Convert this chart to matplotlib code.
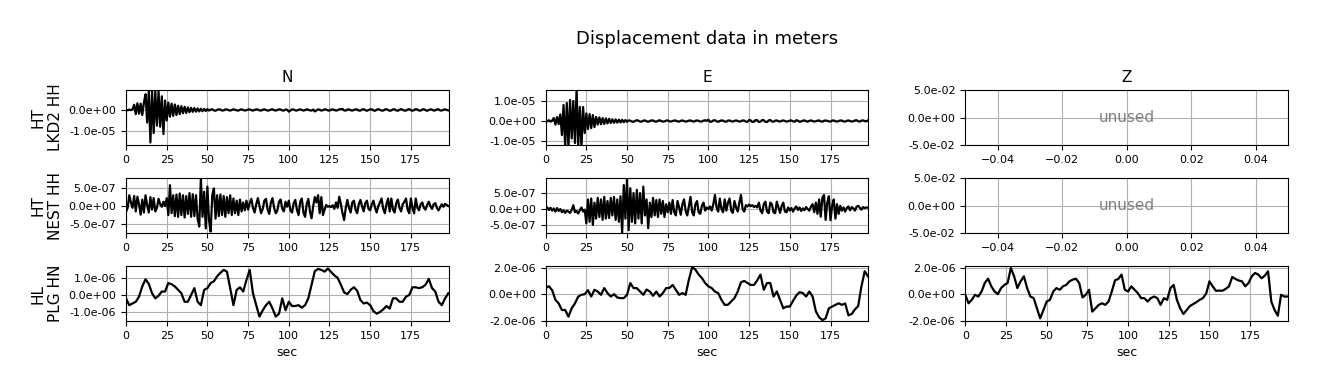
import numpy as np
import matplotlib
matplotlib.use('Agg')
import matplotlib.pyplot as plt
from matplotlib.ticker import FormatStrFormatter, MultipleLocator

# displacement traces
# HT LKD2 HH, 1 sample / sec, units 1e-6 m
lkd2_n = [0.1, -0.2, 0.2, -0.1, 0.3,
          2.5, -2.0, 3.2, -1.8, 3.0, -2.4, 3.5,
          7.5, -6.0, 9.0, -15.5, 9.2, -11.0, 8.8, -7.5, 9.0, -8.0, 6.5, -11.5, 4.5,
          -5.0, 3.5, -3.2, 3.0, -2.8, 2.6, -2.4, 2.0, -2.0, 1.8, -1.6, 1.5, -1.4, 1.2, -1.1,
          1.0, -0.9, 0.9, -0.8, 0.7, -0.7, 0.6, -0.6, 0.5, -0.5,
          0.4, -0.3, 0.2, 0.3, -0.2, -0.4, 0.1, 0.3, 0.2, -0.3,
          -0.2, 0.2, 0.3, -0.1, -0.3, 0.0, 0.3, 0.1, -0.2, -0.3,
          0.1, 0.3, 0.0, -0.3, -0.1, 0.2, 0.3, -0.1, -0.3, 0.0,
          0.3, 0.2, -0.2, -0.3, 0.1, 0.3, 0.0, -0.3, -0.2, 0.2,
          0.3, -0.1, -0.3, 0.0, 0.3, 0.2, -0.2, -0.3, 0.2, 0.1,
          -0.8, -0.3, 0.3, 0.2, -0.2, -0.3, 0.1, 0.3, 0.0, -0.3,
          -0.1, 0.3, 0.1, -0.2, -0.3, 0.2, -0.7, -0.2, 0.3, 0.1,
          -0.3, -0.1, 0.3, 0.2, -0.2, -0.3, 0.1, 0.3, 0.0, -0.3,
          -0.1, 0.3, 0.4, 0.5, -0.2, -0.3, 0.2, 0.3, -0.1, -0.3,
          0.0, 0.3, 0.2, -0.3, -0.3, 0.2, 0.4, -0.1, -0.4, 0.0,
          0.3, 0.3, -0.2, -0.4, 0.1, 0.4, 0.1, -0.3, -0.3, 0.2,
          0.4, 0.0, -0.4, -0.2, 0.3, 0.3, -0.2, -0.4, 0.1, 0.4,
          0.1, -0.3, -0.3, 0.2, 0.4, -0.1, -0.4, 0.0, 0.4, 0.2,
          -0.3, -0.3, 0.2, 0.4, -0.1, -0.4, 0.0, 0.3, 0.2, -0.3,
          -0.2, 0.3, 0.3, -0.2, -0.3, 0.1, 0.3, 0.0, -0.2]

lkd2_e = [0.3, -0.2, 0.4, -0.3, 0.2,
          1.5, -1.8, 2.0, -1.5, 3.3,
          -7.0, 8.0, -13.0, 9.0, -13.0, 10.5, -8.7, 10.0, -11.0, 16.0, -13.0, 7.0, -13.0, 7.0, -6.0,
          3.8, -4.0, 3.5, -3.6, 3.0, -3.0, 2.0, -1.8, 1.8, -1.6, 1.5, -1.5, 1.3, -1.2, 1.1,
          -1.0, 0.9, -0.9, 0.8, -0.8, 0.7, -0.7, 0.6, -0.6, 0.5,
          -0.4, 0.3, 0.2, -0.3, -0.4, 0.1, 0.4, 0.2, -0.3, -0.3,
          0.2, 0.3, -0.1, -0.4, 0.0, 0.3, 0.3, -0.2, -0.3, 0.1,
          0.4, 0.0, -0.3, -0.2, 0.2, 0.3, -0.1, -0.3, 0.0, 0.3,
          0.2, -0.2, -0.3, 0.1, 0.3, 0.0, -0.3, -0.1, 0.2, 0.3,
          -0.1, -0.3, 0.1, 0.3, 0.1, -0.3, -0.2, 0.2, 0.4, 0.1,
          0.6, -0.4, -0.3, 0.3, 0.4, -0.1, -0.4, 0.0, 0.3, 0.2,
          -0.3, -0.3, 0.2, 0.3, -0.1, -0.3, 0.1, 0.3, 0.0, -0.3,
          -0.1, 0.3, 0.2, -0.3, -0.4, 0.5, 0.3, -0.5, -0.3, 0.5,
          0.4, -0.5, -0.3, 0.5, 0.4, -0.4, -0.5, 0.3, 0.5, -0.2,
          -0.4, 0.2, 0.3, -0.1, -0.3, 0.1, 0.3, 0.0, -0.3, -0.1,
          0.2, 0.3, -0.2, -0.3, 0.4, 0.2, -0.4, -0.2, 0.2, 0.3,
          -0.1, -0.3, 0.1, 0.3, 0.0, -0.3, -0.1, 0.2, 0.3, -0.2,
          -0.3, 0.1, 0.3, 0.1, -0.2, -0.3, 0.2, 0.3, -0.1, -0.3,
          0.0, 0.3, 0.2, -0.2, -0.3, 0.1, 0.3, 0.0, -0.3, -0.1,
          0.3, 0.4, -0.1, -0.3, 0.2, 0.3, 0.0, -0.2, 0.3]

# HT NEST HH, 1 sample / sec, units 1e-8 m
nest_n = [-16, -5, 30, 10, -5, 28, -15, 26, 5, -24, 18, -18, 30, 2, -18, 25, -10, 22, -15, -5,
          20, 5, -2, 12, 0,
          22, -25, 58, -20, 30, -28, 32, -30, 35, -25, 30, -32, 28, -22, 36, -30, 33, -28, 30, -35,
          -57, 78, -30, 40, -62, 54, -40, -71, 30, 49, -35,
          30, -28, 32, -25, 28, -30, 25, -20, 30, -25,
          21, -20, 15, -25, 18, -15, 10, -12, 15, -10,
          8, 20, -5, -18, 5, 22, 0, -20, -8, 15, 20, -10, -22, 10, 22, -5, -20, -12, 12, 18,
          -8, -15,
          12, -2, 15, -12, -18, 8, 17, -10, -25, 12, 21, -18, -30, 5, 20, -15, -34, 0, 25, 10,
          30, -20, 25, -25, -10,
          3, -2, 0, -3, 2, -8, 10, -5, 26, 5, -20, -39, -5,
          17, -5, -18, 10, 15, -10, -20, 5, 17, 0, -15, 8, 15, -8, -12,
          5, 15, -5, -18, 0, 10, 21, -8, -20, 5, 21, -15, 21, -10, -18,
          8, 18, -5, -15, 5, 12, 21, -10, -20, 21, -5, -20, 21, -5, -12,
          5, 10, -5, -10, 3, 12, 0, -8, 5, 8, -5, -12, -3, 5, -2, 6, 3, 0]

nest_e = [0, 5, -3, 4, -5, 2, -8, 3, -6, 0, -10, -4, -12, -5, -8, -12, -3, 12, -10, -6,
          -14, -4, 5, -8, -2,
          -45, 30, -40, 33, -50, 20, -30, 35, -25, 30, -34, 38, -30, 25, -28, 35, -20, 38, -34, 30,
          -40, 40, -75, 75, -30, 96, -66, 65, -40, 50, -45, 60, -30, 50, -45, 70, -20, 30, -60, 20,
          -25,
          35, -20, 28, -25, 30, -15, 25, -25, 15, -10,
          20, -15, 28, -10, -20, 25, 5, -18, 15, 30, -5, -20, 10, 38, -10, -20, 15, 25, -10, -15,
          10, 20,
          -5, 5, 0, 8, -5, 15, 44, 5, -8, 33, 0, -10, 30, -5, 20, 33, -5, -12, 25, 5,
          -8, 20, 44, 0, -8,
          12, 8, 14, 9, 12, 6, 10, 5,
          20, -5, -13, 15, 23, -8, -13, 20, 15, -10, -13, 23, 5, -12, 10, 20, -8, -10,
          5, -5, 3, -8, 2, 8, -3, 5, -6, 2, -4, 6, 0, -5, 8,
          15, -10, 20, -15, 30, -24, 35, 44, -34, 20, 40, -35, 10, 30, -30, 15, -15,
          10, -5, 5, -8, 3, 8, -4, 6, 2, -5, 7, 10, 4, -2, 6, 3, 5, 4]

# HL PLG HN, 1 sample / 2 sec, units 1e-7 m
plg_n = [-2, -6, -5, -4, -1, 5, 9.2, 6.5, 1, -2, -0.5, 2, 2, 7, 6.3, 5, 3, 1, -4, -4,
         0, 4, -4, -6, 3, 4, 7, 8, 11, 13, 14.7, 13.7, 4, -6, 3, 4.5, 2, 8.8, 14.7, 1,
         -6, -12.7, -9, -6, -4, -8, -12.7, -11, -2, -9, -4, -6.5, -6.5, -6, -7.5, -6, -2, 6, 14, 15.3,
         14.7, 13.7, 15.5, 13.5, 11.5, 10, 6, 1.5, 0.5, 3, 4.5, 2.5, -3, -5, -4.5, -6, -9.5, -11, -10, -8.5,
         -6.5, -8, -2, -2, -4, -4, -1, 0, 4.5, 4.5, 4, 4.5, 6, 9.4, 4, 2, -4, -6, -2, 1]

plg_e = [4.6, 6, 3, -4.3, -7, -12, -12, -17, -10.7, -7, -1.8, -0.5, 0, 3, -1.8, 3.3, 2, -0.5, 4.6, 0.8,
         -1.8, 0, -2.5, -3, -3, -0.5, 8.4, 4.6, 4.6, 2, -0.5, 3.5, 2, -1.2, 2, -1.8, 0.8, 4.6, 4.6, 7,
         3.3, -0.5, 0.8, -0.5, 11, 20.4, 18.6, 14.8, 12.2, 8.4, 5.9, 4.6, 2, 0.8, -4.3, -8.1, -8, -5.5, -3, 2,
         9, 10, 8.4, 7, 7, 10.5, 14.8, 3.3, 8.4, 8.4, -1.8, 2, -4.3, -10.7, -9.4, -9.4, -5, -1, 1.5, 0.8,
         -1.8, 2, -1.8, -13, -17.5, -19.6, -18.3, -10.7, -9.4, -8.1, -6.9, -8.1, -7, -16, -15, -11.5, -9, 5.9, 17.3, 13.5]

plg_z = [-0.5, -6.9, -4.3, -0.5, -1.8, 2, 8.5, 11.7, 5.9, 2, 0, 4.6, 7, 8.4, 19.8, 13.5, 4.6, 9.7, 13.5, 4.6,
         -1.8, -3, -10.7, -18.3, -12, -5.6, -4.3, 2, 4.6, 3.3, 5.9, 7, 9.7, 11, 11.7, 8.4, -2.5, -0.5, 3.3, -13.2,
         -10.7, -8.1, -6.9, -8.1, -5.6, 2, 10.5, 11.5, 14.8, 3.3, 2, 5.9, 3.3, 0.8, -3, -3, -5.6, -3, -1.8, -3,
         -8.1, -3, -4.3, 4.5, 7, -4.3, -10.7, -15, -12, -9, -7.5, -6, -4.3, -3, 0.5, 9.7, 5.9, 2.5, 2.7, 2.6,
         4, 5.9, 13, 11.5, 10.3, 9.7, 5.9, 8.4, 13.5, 16, 14.8, 12, 14, 17.3, -5.6, -12, -16.3, -0.5, -1.8, -1.8]

stations = ['HT\nLKD2 HH', 'HT\nNEST HH', 'HL\nPLG HN']
components = ['N', 'E', 'Z']

traces = {
    (0, 0): (np.array(lkd2_n) * 1e-6, 1.0),
    (0, 1): (np.array(lkd2_e) * 1e-6, 1.0),
    (1, 0): (np.array(nest_n) * 1e-8, 1.0),
    (1, 1): (np.array(nest_e) * 1e-8, 1.0),
    (2, 0): (np.array(plg_n) * 1e-7, 2.0),
    (2, 1): (np.array(plg_e) * 1e-7, 2.0),
    (2, 2): (np.array(plg_z) * 1e-7, 2.0),
}
y_limits = {
    (0, 0): (-1.67e-5, 0.95e-5), (0, 1): (-1.2e-5, 1.55e-5),
    (1, 0): (-7.5e-7, 7.8e-7), (1, 1): (-7.5e-7, 9.7e-7),
    (2, 0): (-1.53e-6, 1.7e-6), (2, 1): (-2.03e-6, 2.13e-6), (2, 2): (-2.03e-6, 2.13e-6),
}
y_steps = {0: 1e-5, 1: 5e-7}

fig = plt.figure(figsize=(13.18, 3.89), dpi=100)
gs = fig.add_gridspec(3, 3, left=0.0956, right=0.9773, top=0.7686, bottom=0.1748,
                      wspace=0.30, hspace=0.6)
fig.suptitle('Displacement data in meters', fontsize=13, x=0.5364, y=0.922)

for i in range(3):
    for j in range(3):
        ax = fig.add_subplot(gs[i, j])
        if (i, j) in traces:
            vals, dt = traces[(i, j)]
            t = np.arange(len(vals)) * dt
            ax.plot(t, vals, color='black', lw=1.6)
            ax.set_xlim(0, 198.3)
            ax.set_ylim(*y_limits[(i, j)])
            if i == 2:
                ax.yaxis.set_major_locator(MultipleLocator(2e-6 if j > 0 else 1e-6))
            else:
                ax.yaxis.set_major_locator(MultipleLocator(y_steps[i]))
        else:
            ax.set_xlim(-0.05, 0.05)
            ax.set_ylim(-0.05, 0.05)
            ax.yaxis.set_major_locator(MultipleLocator(0.05))
            ax.text(0, 0, 'unused', color='gray', fontsize=11, ha='center', va='center')
        ax.yaxis.set_major_formatter(FormatStrFormatter('%.1e'))
        ax.tick_params(labelsize=8)
        ax.grid(True)
        if i == 0:
            ax.set_title(components[j], fontsize=11)
        if j == 0:
            ax.set_ylabel(stations[i], fontsize=11)
        if i == 2:
            ax.set_xlabel('sec', fontsize=9)

plt.savefig('out.png', dpi=100)
